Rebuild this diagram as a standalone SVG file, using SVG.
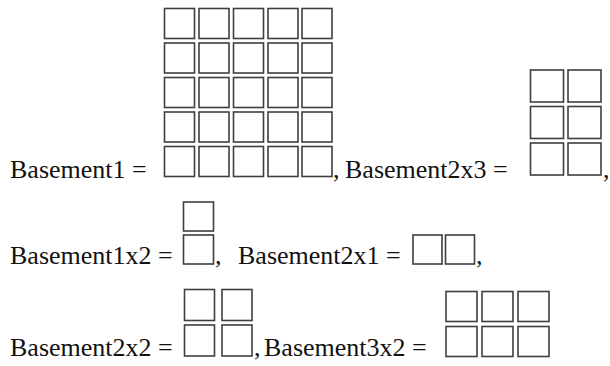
<svg xmlns="http://www.w3.org/2000/svg" width="610" height="366" viewBox="0 0 610 366">
  <defs>
    <style>
      .cell { fill: #fff; stroke: #3f3f3f; stroke-width: 1.6; }
      .lbl { font-family: "Liberation Serif", "Times New Roman", serif; font-size: 26px; fill: #111; }
    </style>
    <!-- unit cells used by each basement block -->
    <rect id="c30" class="cell" width="30" height="30"/>
    <rect id="c33" class="cell" width="33" height="32"/>
  </defs>
  <rect width="610" height="366" fill="#fff"/>

  <!-- Basement1: 5 x 5 cells -->
  <g id="basement1">
    <text class="lbl" x="10" y="178">Basement1 =</text>
    <g id="basement1-cells">
      <use href="#c30" x="164.5" y="8.5"/><use href="#c30" x="199" y="8.5"/><use href="#c30" x="233.5" y="8.5"/><use href="#c30" x="268" y="8.5"/><use href="#c30" x="302" y="8.5"/>
      <use href="#c30" x="164.5" y="43"/><use href="#c30" x="199" y="43"/><use href="#c30" x="233.5" y="43"/><use href="#c30" x="268" y="43"/><use href="#c30" x="302" y="43"/>
      <use href="#c30" x="164.5" y="77.5"/><use href="#c30" x="199" y="77.5"/><use href="#c30" x="233.5" y="77.5"/><use href="#c30" x="268" y="77.5"/><use href="#c30" x="302" y="77.5"/>
      <use href="#c30" x="164.5" y="112"/><use href="#c30" x="199" y="112"/><use href="#c30" x="233.5" y="112"/><use href="#c30" x="268" y="112"/><use href="#c30" x="302" y="112"/>
      <use href="#c30" x="164.5" y="146.5"/><use href="#c30" x="199" y="146.5"/><use href="#c30" x="233.5" y="146.5"/><use href="#c30" x="268" y="146.5"/><use href="#c30" x="302" y="146.5"/>
    </g>
  </g>

  <!-- Basement2x3: 2 columns x 3 rows -->
  <g id="basement2x3">
    <text class="lbl" x="333" y="178">,</text>
    <text class="lbl" x="345" y="178">Basement2x3 =</text>
    <use href="#c33" x="530.5" y="70"/><use href="#c33" x="568" y="70"/>
    <use href="#c33" x="530.5" y="106.5"/><use href="#c33" x="568" y="106.5"/>
    <use href="#c33" x="530.5" y="143"/><use href="#c33" x="568" y="143"/>
    <text class="lbl" x="603" y="178">,</text>
  </g>

  <!-- Basement1x2: 1 column x 2 rows -->
  <g id="basement1x2">
    <text class="lbl" x="10" y="264">Basement1x2 =</text>
    <rect class="cell" x="183.5" y="202" width="30" height="29"/>
    <rect class="cell" x="183.5" y="235" width="30" height="29"/>
    <text class="lbl" x="215" y="264">,</text>
  </g>

  <!-- Basement2x1: 2 columns x 1 row -->
  <g id="basement2x1">
    <text class="lbl" x="238" y="264">Basement2x1 =</text>
    <rect class="cell" x="413" y="235" width="29" height="29"/>
    <rect class="cell" x="445.5" y="235" width="29" height="29"/>
    <text class="lbl" x="476" y="264">,</text>
  </g>

  <!-- Basement2x2: 2 columns x 2 rows -->
  <g id="basement2x2">
    <text class="lbl" x="10" y="356">Basement2x2 =</text>
    <rect class="cell" x="184.5" y="289.5" width="30" height="31"/>
    <rect class="cell" x="222" y="289.5" width="30" height="31"/>
    <rect class="cell" x="184.5" y="325" width="30" height="31"/>
    <rect class="cell" x="222" y="325" width="30" height="31"/>
    <text class="lbl" x="254" y="356">,</text>
  </g>

  <!-- Basement3x2: 3 columns x 2 rows -->
  <g id="basement3x2">
    <text class="lbl" x="264" y="356">Basement3x2 =</text>
    <rect class="cell" x="446" y="291.5" width="31" height="30"/>
    <rect class="cell" x="482" y="291.5" width="31" height="30"/>
    <rect class="cell" x="518" y="291.5" width="31" height="30"/>
    <rect class="cell" x="446" y="326.5" width="31" height="30"/>
    <rect class="cell" x="482" y="326.5" width="31" height="30"/>
    <rect class="cell" x="518" y="326.5" width="31" height="30"/>
  </g>
</svg>
